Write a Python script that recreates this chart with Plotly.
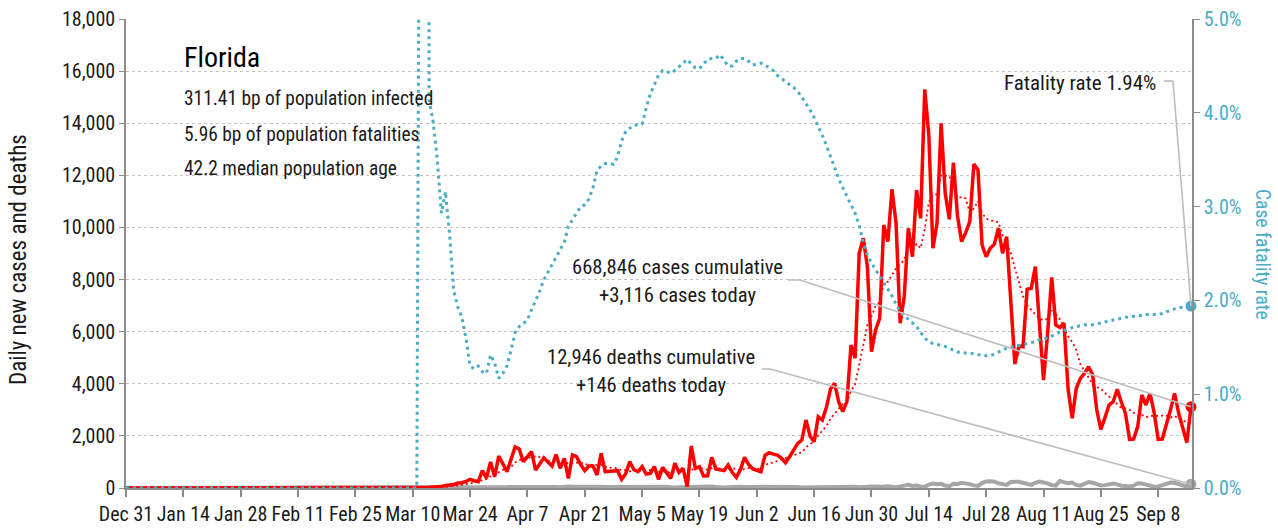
import pandas as pd
import plotly.graph_objects as go

START = "2019-12-31"

# Daily new cases (Dec 31 .. Feb 29 are zero, then Mar 1 .. Sep 16)
cases_pre = [0] * 61
cases_main = [
    2, 1, 0, 3, 3, 5, 7, 4, 5, 10,
    13, 12, 20, 27, 38, 40, 60, 95, 120, 130,
    190, 200, 250, 333, 280, 243, 665, 380, 1000, 435,
    1228, 900, 627, 1100, 1574, 1500, 1010, 1200, 1395, 690,
    900, 1150, 1000, 845, 1290, 755, 1140, 370, 1266, 1200,
    900, 665, 845, 845, 500, 1330, 627, 650, 640, 665,
    333, 550, 1010, 700, 627, 819, 537, 560, 819, 333,
    793, 600, 370, 947, 600, 755, 50, 1612, 755, 819,
    460, 470, 1177, 730, 700, 665, 883, 600, 409, 700,
    1177, 900, 730, 680, 627, 1250, 1355, 1300, 1266, 1150,
    972, 1200, 1450, 1714, 1842, 2610, 2000, 1778, 2738, 2610,
    3100, 3800, 4018, 3300, 2930, 3312, 5488, 4978, 9007, 9583,
    8494, 5232, 6064, 6513, 10094, 9455, 11465, 10158, 6321, 7343,
    9967, 8878, 11437, 10350, 15300, 13548, 9200, 10158, 13997, 11310,
    10312, 12486, 10440, 9455, 9800, 10222, 12435, 12205, 9326, 8878,
    9200, 9358, 9967, 9007, 9646, 7215, 4759, 5450, 5423, 7626,
    7664, 8494, 6200, 4145, 5937, 8086, 6256, 6160, 6330, 3800,
    2675, 3826, 4210, 4400, 4657, 4337, 2994, 2253, 2700, 3185,
    3312, 3788, 3300, 2866, 1869, 1880, 2354, 3569, 3185, 3634,
    2900, 1869, 1880, 2418, 3000, 3634, 2866, 2300, 1740, 3116,
]

# Daily new deaths
deaths_pre = [0] * 61
deaths_main = [
    0, 0, 0, 0, 0, 2, 0, 0, 0, 0,
    0, 0, 1, 1, 0, 2, 1, 3, 2, 4,
    3, 5, 6, 8, 7, 9, 12, 15, 20, 18,
    25, 30, 35, 40, 42, 45, 28, 30, 50, 60,
    40, 55, 48, 57, 35, 30, 48, 60, 45, 50,
    40, 35, 32, 48, 58, 46, 40, 42, 35, 30,
    40, 45, 60, 28, 30, 38, 55, 42, 35, 48,
    55, 44, 20, 25, 40, 45, 48, 40, 30, 28,
    35, 48, 55, 40, 22, 20, 30, 44, 50, 45,
    40, 28, 30, 35, 48, 50, 42, 30, 25, 40,
    45, 38, 44, 35, 22, 25, 35, 40, 45, 43,
    48, 20, 25, 42, 46, 45, 40, 45, 30, 25,
    45, 58, 50, 60, 48, 67, 35, 30, 60, 90,
    120, 80, 95, 60, 45, 130, 170, 145, 160, 90,
    70, 160, 150, 200, 180, 150, 100, 80, 190, 250,
    260, 240, 180, 150, 120, 230, 250, 240, 200, 150,
    120, 200, 250, 210, 180, 110, 90, 270, 240, 180,
    210, 120, 90, 150, 230, 200, 150, 100, 110, 150,
    170, 140, 90, 80, 60, 90, 180, 170, 120, 70,
    50, 60, 100, 130, 210, 200, 140, 80, 50, 146,
]

# Case fatality rate in percent (zero until Mar 11, then Mar 12 .. Sep 16)
cfr_pre = [0] * 72
cfr_main = [
    11.0, 40.0, 4.14, 3.90, 3.50, 2.93, 3.16, 2.70, 2.11,
    1.93, 1.82, 1.60, 1.30, 1.27, 1.30, 1.24, 1.22, 1.42, 1.33,
    1.17, 1.22, 1.30, 1.47, 1.66, 1.72, 1.76, 1.79, 1.90, 2.00,
    2.10, 2.22, 2.30, 2.38, 2.45, 2.53, 2.62, 2.79, 2.86, 2.92,
    3.00, 3.02, 3.08, 3.20, 3.39, 3.43, 3.46, 3.46, 3.45, 3.53,
    3.70, 3.80, 3.84, 3.87, 3.87, 3.88, 4.05, 4.20, 4.30, 4.40,
    4.45, 4.44, 4.42, 4.45, 4.49, 4.53, 4.57, 4.52, 4.48, 4.47,
    4.52, 4.57, 4.58, 4.58, 4.62, 4.56, 4.50, 4.50, 4.55, 4.58,
    4.58, 4.55, 4.51, 4.52, 4.53, 4.51, 4.48, 4.45, 4.40, 4.37,
    4.33, 4.30, 4.27, 4.23, 4.17, 4.10, 4.03, 3.95, 3.85, 3.76,
    3.65, 3.53, 3.42, 3.30, 3.20, 3.10, 3.02, 2.93, 2.80, 2.62,
    2.48, 2.40, 2.33, 2.26, 2.19, 2.12, 2.05, 1.96, 1.88, 1.83,
    1.80, 1.76, 1.72, 1.66, 1.60, 1.56, 1.54, 1.53, 1.52, 1.51,
    1.49, 1.47, 1.45, 1.44, 1.44, 1.44, 1.43, 1.42, 1.42, 1.41,
    1.41, 1.43, 1.45, 1.47, 1.49, 1.50, 1.51, 1.52, 1.53, 1.54,
    1.55, 1.56, 1.58, 1.59, 1.60, 1.62, 1.64, 1.66, 1.68, 1.69,
    1.71, 1.72, 1.73, 1.74, 1.74, 1.74, 1.75, 1.76, 1.77, 1.78,
    1.79, 1.80, 1.81, 1.82, 1.82, 1.83, 1.84, 1.84, 1.85, 1.85,
    1.85, 1.85, 1.86, 1.88, 1.89, 1.91, 1.92, 1.93, 1.93, 1.94,
]

cases = cases_pre + cases_main
deaths = deaths_pre + deaths_main
cfr = [v / 100 for v in cfr_pre + cfr_main]
assert len(cases) == len(deaths) == len(cfr), (len(cases), len(deaths), len(cfr))

dates = pd.date_range(START, periods=len(cases), freq="D")
cases_avg = pd.Series(cases).rolling(7, min_periods=1).mean().tolist()

state = "Florida"
stats = ["311.41 bp of population infected",
         "5.96 bp of population fatalities",
         "42.2 median population age"]
cases_cum_label = "668,846 cases cumulative"
cases_today_label = "+3,116 cases today"
deaths_cum_label = "12,946 deaths cumulative"
deaths_today_label = "+146 deaths today"
fatality_label = "Fatality rate 1.94%"

tick_dates = pd.date_range(START, dates[-1], freq="14D")
tick_text = [d.strftime("%b ") + str(d.day) for d in tick_dates]

FONT = "Roboto Condensed, Liberation Sans Narrow, Arial Narrow, Roboto, sans-serif"
RED = "#FF0000"
TEAL = "#4BACC6"
GRAY = "#A6A6A6"
AXIS = "#8C8C8C"
TXT = "#1A1A1A"

x_start = pd.Timestamp(START)
x_end = dates[-1] + pd.Timedelta(hours=6)
Y_MAX = 18000
CFR_MAX = 0.05

fig = go.Figure()
fig.add_trace(go.Scatter(x=dates, y=cfr, yaxis="y2", mode="lines",
                         line=dict(color=TEAL, width=3, dash="3px,4px"),
                         hoverinfo="skip"))
fig.add_trace(go.Scatter(x=dates, y=deaths, mode="lines",
                         line=dict(color=GRAY, width=4), hoverinfo="skip"))
fig.add_trace(go.Scatter(x=dates, y=cases_avg, mode="lines",
                         line=dict(color=RED, width=1.8, dash="2px,3px"),
                         hoverinfo="skip"))
fig.add_trace(go.Scatter(x=dates, y=cases, mode="lines",
                         line=dict(color=RED, width=3.5), hoverinfo="skip"))
# end markers
fig.add_trace(go.Scatter(x=[dates[-1]], y=[cfr[-1]], yaxis="y2", mode="markers",
                         marker=dict(color=TEAL, size=11), cliponaxis=False,
                         hoverinfo="skip"))
fig.add_trace(go.Scatter(x=[dates[-1]], y=[deaths[-1]], mode="markers",
                         marker=dict(color=GRAY, size=11), cliponaxis=False,
                         hoverinfo="skip"))
fig.add_trace(go.Scatter(x=[dates[-1]], y=[cases[-1]], mode="markers",
                         marker=dict(color=RED, size=11), cliponaxis=False,
                         hoverinfo="skip"))

# plot geometry (pixels) used for text placement
L, R, T, B = 126, 1192, 19, 488
W, H = R - L, B - T


def px(x):
    return (x - L) / W


def py(y):
    return (B - y) / H


def end_x():
    span = (x_end - x_start).total_seconds()
    return (dates[-1] - x_start).total_seconds() / span


annotations = []
annotations.append(dict(text=state, x=px(182), y=py(58), xref="paper", yref="paper",
                        xanchor="left", yanchor="middle", showarrow=False,
                        font=dict(size=28, color="#000000", family=FONT)))
for i, s in enumerate(stats):
    annotations.append(dict(text=s, x=px(182), y=py(99 + 35 * i), xref="paper", yref="paper",
                            xanchor="left", yanchor="middle", showarrow=False,
                            font=dict(size=19.4, color=TXT, family=FONT)))
for text, x, y in [(cases_cum_label, 677, 267), (cases_today_label, 677, 295),
                   (deaths_cum_label, 651, 357), (deaths_today_label, 651, 385)]:
    annotations.append(dict(text=text, x=px(x), y=py(y), xref="paper", yref="paper",
                            xanchor="center", yanchor="middle", showarrow=False,
                            font=dict(size=20.6, color=TXT, family=FONT)))
annotations.append(dict(text=fatality_label, x=px(1158), y=py(83), xref="paper", yref="paper",
                        xanchor="right", yanchor="middle", showarrow=False,
                        font=dict(size=21, color=TXT, family=FONT)))
annotations.append(dict(text="Daily new cases and deaths", x=px(18), y=py(260),
                        xref="paper", yref="paper", xanchor="center", yanchor="middle",
                        showarrow=False, textangle=-90,
                        font=dict(size=23, color=TXT, family=FONT)))
annotations.append(dict(text="Case fatality rate", x=px(1263), y=py(254),
                        xref="paper", yref="paper", xanchor="center", yanchor="middle",
                        showarrow=False, textangle=90,
                        font=dict(size=19.5, color=TEAL, family=FONT)))

LEAD = dict(color="#BDBDBD", width=1.6)
shapes = []
for (x0, x1, y0, yv) in [(1164, 1173, 81, cfr[-1] / CFR_MAX),
                         (788, 800, 280, cases[-1] / Y_MAX),
                         (762, 770, 369, deaths[-1] / Y_MAX)]:
    shapes.append(dict(type="line", xref="paper", yref="paper",
                       x0=px(x0), x1=px(x1), y0=py(y0), y1=py(y0), line=LEAD, layer="above"))
    shapes.append(dict(type="line", xref="paper", yref="paper",
                       x0=px(x1), x1=end_x(), y0=py(y0), y1=yv, line=LEAD, layer="above"))

TICKFONT = 20
fig.update_layout(
    width=1278, height=529,
    margin=dict(l=L, r=1278 - R, t=T, b=529 - B, autoexpand=False),
    paper_bgcolor="white", plot_bgcolor="white",
    showlegend=False,
    font=dict(family=FONT, size=18, color=TXT),
    xaxis=dict(type="date", range=[x_start, x_end], tickmode="array",
               tickvals=tick_dates, ticktext=tick_text, showgrid=False,
               showline=True, linecolor=AXIS, linewidth=1.5,
               ticks="outside", ticklen=7, tickcolor=AXIS, tickwidth=1.5,
               tickangle=0,
               tickfont=dict(size=TICKFONT, color=TXT, family=FONT),
               zeroline=False, automargin=False),
    yaxis=dict(range=[0, Y_MAX], dtick=2000, tickformat=",", showgrid=True,
               gridcolor="#C4C4C4", griddash="dot", gridwidth=1,
               showline=True, linecolor=AXIS, linewidth=1.5,
               ticks="outside", ticklen=5, tickcolor=AXIS,
               tickfont=dict(size=TICKFONT, color=TXT, family=FONT),
               zeroline=False, automargin=False),
    yaxis2=dict(range=[0, CFR_MAX], dtick=0.01, tickformat=".1%", overlaying="y",
                side="right", showgrid=False, showline=True, linecolor=AXIS,
                linewidth=1.5, ticks="outside", ticklen=6, tickcolor=AXIS,
                tickfont=dict(size=TICKFONT, color=TEAL, family=FONT),
                zeroline=False, automargin=False),
    annotations=annotations,
    shapes=shapes,
)

fig.write_html(
    "out.html",
    config={"displayModeBar": False},
    post_script="document.body.style.margin='0';document.body.style.overflow='hidden';",
)
